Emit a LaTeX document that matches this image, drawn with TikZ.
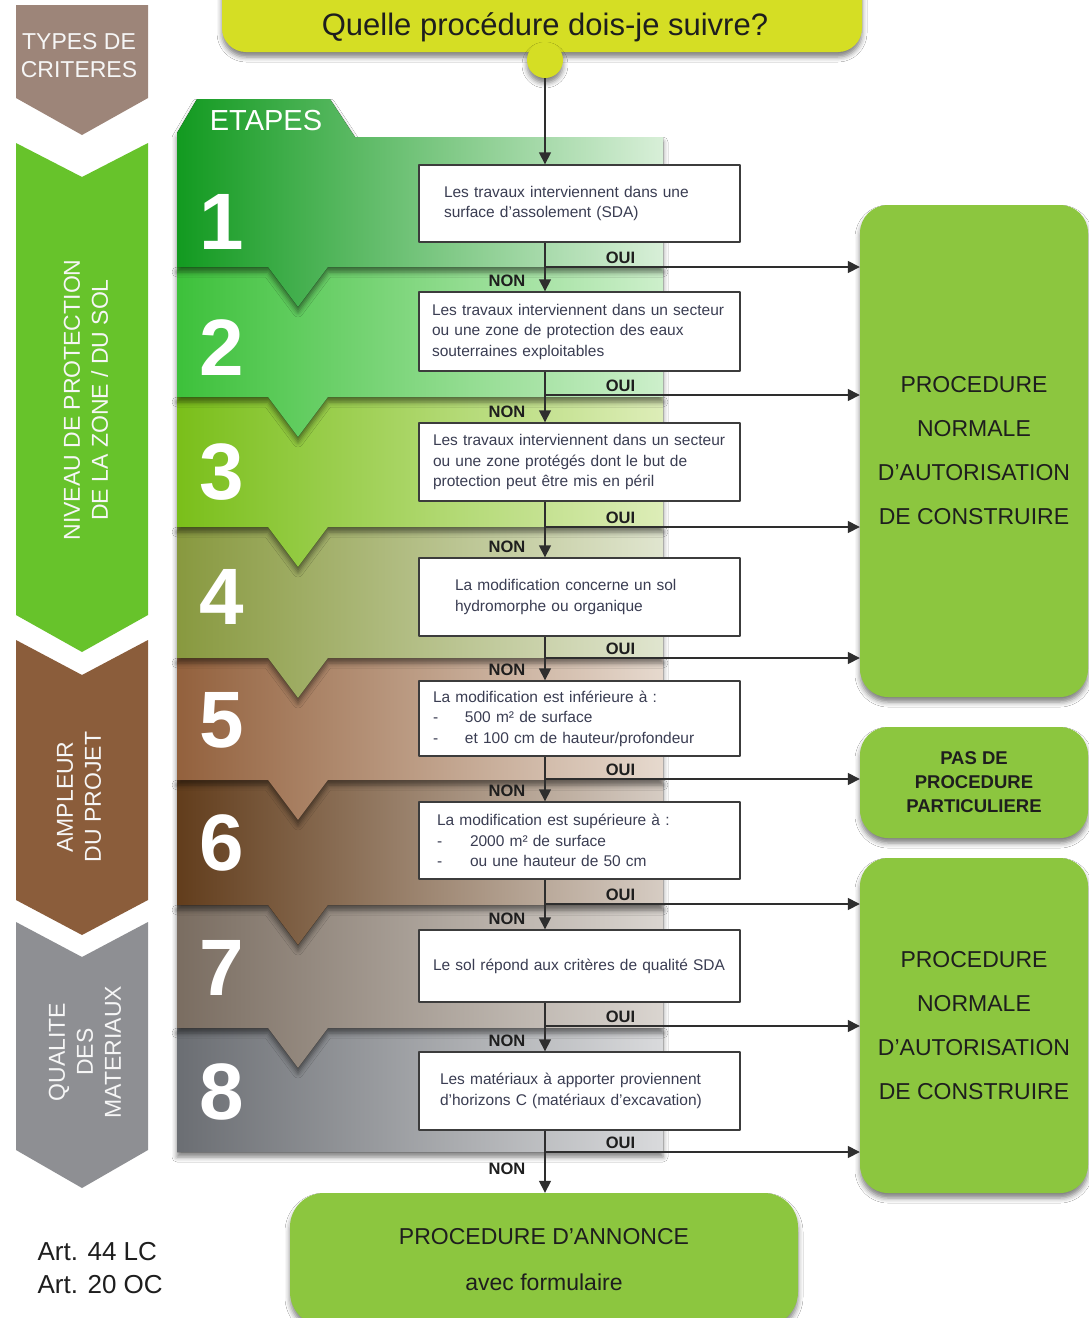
\documentclass[tikz,border=0pt]{standalone}
\usepackage{fontspec}
\setmainfont{Liberation Sans}
\usepackage{tikz}
\usetikzlibrary{arrows.meta,positioning,shadows.blur}
\definecolor{fcTaupe}{HTML}{9D8579}
\definecolor{fcLeaf}{HTML}{67C32B}
\definecolor{fcBrown}{HTML}{8B5D3B}
\definecolor{fcStone}{HTML}{8E8F93}
\definecolor{fcTitle}{HTML}{D5DE24}
\definecolor{fcGreen}{HTML}{8CC63F}
\definecolor{fcBorder}{HTML}{3C3C3C}
\definecolor{fcLine}{HTML}{2E2E2E}
\definecolor{fcText}{HTML}{3A3D52}
\definecolor{fcInk}{HTML}{1E1E1E}
\tikzset{
  fc diagram/.style={line join=round},
  fc shadow/.style={blur shadow={shadow xshift=0pt, shadow yshift=-5pt,
    shadow blur radius=5pt, shadow opacity=50}},
  fc band/.style={fc shadow},
  fc tag/.style={text=white!93!gray, align=center,
    font=\fontsize{23}{28}\selectfont},
  fc num/.style={text=white, font=\bfseries\fontsize{80}{80}\selectfont, inner sep=0pt},
  fc question/.style={draw=fcBorder, line width=1.4pt, fill=white, align=left,
    text=fcText, font=\fontsize{15.5}{20.5}\selectfont},
  fc flow/.style={draw=fcLine, line width=1.5pt,
    -{Triangle[length=12pt,width=12pt]}},
  fc oui/.style={font=\bfseries\fontsize{16.5}{18}\selectfont, text=fcInk,
    above, pos=0.24, inner sep=3pt},
  fc non/.style={font=\bfseries\fontsize{16.5}{18}\selectfont, text=fcInk,
    at end, anchor=south east, xshift=-17pt, yshift=2pt, inner sep=2pt},
  fc result/.style={fill=fcGreen, rounded corners=28pt, align=center,
    text=fcInk, fc shadow}
}
\begin{document}
\begin{tikzpicture}[fc diagram, x=1pt, y=-1pt]
\useasboundingbox (0,0) rectangle (1089,1318);
\fill[white] (0,0) rectangle (1089,1318);

% left column: kinds of criteria
\fill[fcTaupe] (16,5) -- (148,5) -- (148,98) -- (82,135) -- (16,98) -- cycle;
\node[fc tag] (crit) at (79,56) {TYPES DE\\CRITERES};
\fill[fcLeaf] (16,143) -- (82,177) -- (148,143) -- (148,615) -- (82,652) -- (16,615) -- cycle;
\node[fc tag, rotate=90] (level) at (86,400) {NIVEAU DE PROTECTION\\DE LA ZONE / DU SOL};
\fill[fcBrown] (16,640) -- (82,675) -- (148,640) -- (148,900) -- (82,935) -- (16,900) -- cycle;
\node[fc tag, rotate=90] (size) at (79,797) {AMPLEUR\\DU PROJET};
\fill[fcStone] (16,922) -- (82,957) -- (148,922) -- (148,1150) -- (82,1188) -- (16,1150) -- cycle;
\node[fc tag, rotate=90] (qual) at (85,1052) {QUALITE\\DES\\MATERIAUX};

% step bands, drawn bottom up so each notch lies on the next band
\foreach \k/\yt/\yb/\nd/\cl/\cr in {8/1028/1152/0/6B6E73/D9DADC,
    7/905/1028/40/7A6D61/DAD5D0, 6/780/905/40/623D1C/D6CCC3,
    5/658/780/40/93613D/E6D9CE, 4/527/658/40/88993F/E0E5CF,
    3/397/527/40/7ABF1A/DDEDB8, 2/267/397/40/3DC13B/CDEFCB}{
  \definecolor{bandleft}{HTML}{\cl}
  \definecolor{bandright}{HTML}{\cr}
  \fill[fc band, left color=bandleft, right color=bandright]
    (177,\yt) -- (663,\yt) -- (663,\yb) -- (328,\yb) -- (298,\yb+\nd)
    -- (268,\yb) -- (177,\yb) -- cycle;
}
\definecolor{bandleft}{HTML}{129A20}
\definecolor{bandright}{HTML}{D8EFD8}
\fill[fc band, left color=bandleft, right color=bandright]
  (177,133) -- (197,99) -- (330,99) -- (355,137) -- (663,137) -- (663,267)
  -- (328,267) -- (298,307) -- (268,267) -- (177,267) -- cycle;
\node[text=white, font=\fontsize{29}{32}\selectfont] (etapes) at (266,121) {ETAPES};
\foreach \k/\y in {1/222,2/348,3/472,4/597,5/720,6/843,7/968,8/1092}
  \node[fc num] (num\k) at (222,\y) {\k};

% questions
\node[fc question, minimum height=77pt, inner xsep=25pt, text width=271pt] (q1) at (579.5,203.5)
  {Les travaux interviennent dans une\\surface d’assolement (SDA)};
\node[fc question, minimum height=79pt, inner xsep=13pt, text width=295pt] (q2) at (579.5,331.5)
  {Les travaux interviennent dans un secteur\\ou une zone de protection des eaux\\souterraines exploitables};
\node[fc question, minimum height=78pt, inner xsep=14pt, text width=293pt] (q3) at (579.5,462)
  {Les travaux interviennent dans un secteur\\ou une zone protégés dont le but de\\protection peut être mis en péril};
\node[fc question, minimum height=78pt, inner xsep=36pt, text width=249pt] (q4) at (579.5,597)
  {La modification concerne un sol\\hydromorphe ou organique};
\node[fc question, minimum height=75pt, inner xsep=14pt, text width=293pt] (q5) at (579.5,718.5)
  {La modification est inférieure à :\\\makebox[32pt][l]{-}500 m² de surface\\\makebox[32pt][l]{-}et 100 cm de hauteur/profondeur};
\node[fc question, minimum height=77pt, inner xsep=18pt, text width=285pt] (q6) at (579.5,840.5)
  {La modification est supérieure à :\\\makebox[33pt][l]{-}2000 m² de surface\\\makebox[33pt][l]{-}ou une hauteur de 50 cm};
\node[fc question, minimum height=72pt, inner xsep=14pt, text width=293pt] (q7) at (579.5,966)
  {Le sol répond aux critères de qualité SDA};
\node[fc question, minimum height=78pt, inner xsep=21pt, text width=279pt] (q8) at (579.5,1091)
  {Les matériaux à apporter proviennent\\d’horizons C (matériaux d’excavation)};

% question asked
\fill[fcTitle, rounded corners=24pt, fc shadow] (222,-40) rectangle (862,52);
\node[text=fcInk, font=\fontsize{31}{36}\selectfont] (title) at (545,27) {Quelle procédure dois-je suivre?};
\node[circle, fill=fcTitle, minimum size=36pt, inner sep=0pt, fc shadow] (start) at (545,60) {};
\coordinate (spine) at (545,0);

% outcomes
\node[fc result, minimum width=228pt, minimum height=492pt,
  font=\fontsize{23}{44}\selectfont] (normA) at (974,451)
  {PROCEDURE\\NORMALE\\D’AUTORISATION\\DE CONSTRUIRE};
\node[fc result, minimum width=228pt, minimum height=111pt,
  font=\bfseries\fontsize{18.5}{24}\selectfont] (pasde) at (974,782.5)
  {PAS DE\\PROCEDURE\\PARTICULIERE};
\node[fc result, minimum width=228pt, minimum height=335pt,
  font=\fontsize{23}{44}\selectfont] (normB) at (974,1025.5)
  {PROCEDURE\\NORMALE\\D’AUTORISATION\\DE CONSTRUIRE};
\node[fc result, rounded corners=34pt, minimum width=508pt, minimum height=133pt,
  font=\fontsize{23}{46}\selectfont] (annonce) at (544,1259.5)
  {PROCEDURE D’ANNONCE\\avec formulaire};

% flow
\draw[fc flow] (start) -- (start |- q1.north);
\foreach \a/\b in {1/2,2/3,3/4,4/5,5/6,6/7,7/8}
  \draw[fc flow] (q\a.south -| spine) -- node[fc non]{NON} (q\b.north -| spine);
\draw[fc flow] (q8.south -| spine) -- node[fc non, yshift=13pt]{NON} (annonce.north -| spine);
\foreach \k/\y/\t in {1/267/normA,2/395/normA,3/527/normA,4/658/normA,
    5/779/pasde,6/904/normB,7/1026/normB,8/1152/normB}{
  \coordinate (oui\k) at (545,\y);
  \draw[fc flow] (oui\k) -- node[fc oui]{OUI} (oui\k -| \t.west);
}

\node[anchor=west, align=left, text=fcInk, font=\fontsize{26}{33}\selectfont] (art) at (34,1268.5)
  {Art. 44 LC\\Art. 20 OC};
\end{tikzpicture}
\end{document}
